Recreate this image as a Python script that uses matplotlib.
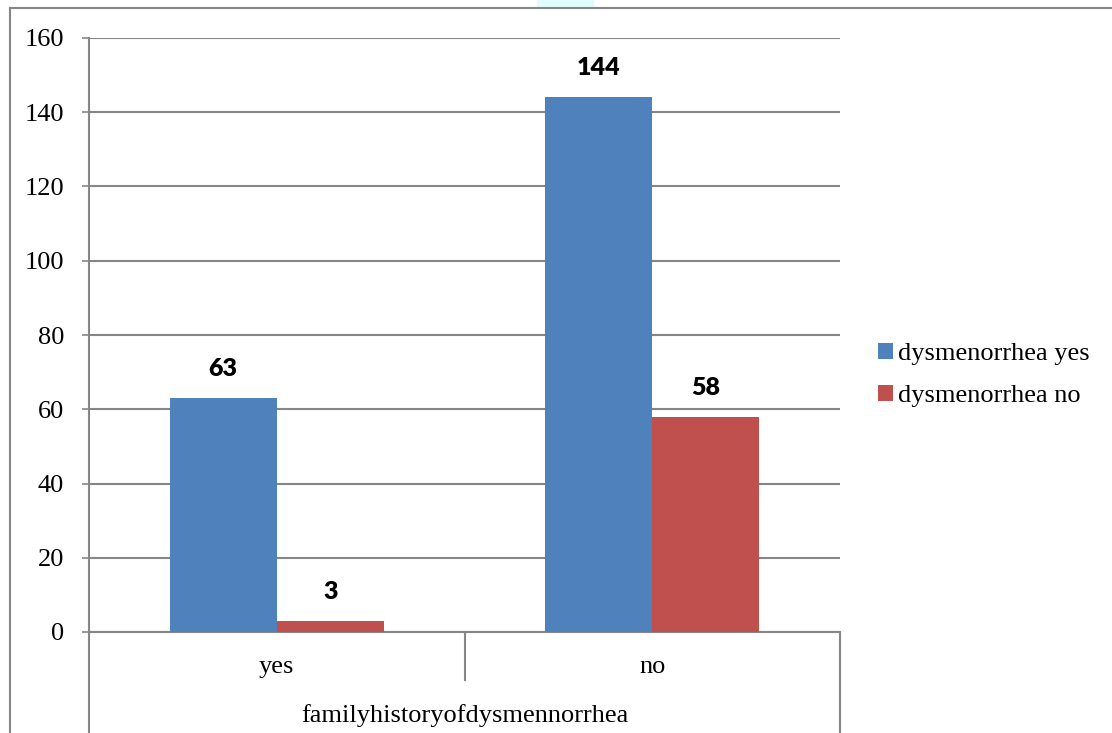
import matplotlib.pyplot as plt
import numpy as np
from matplotlib.lines import Line2D
from matplotlib.patches import Rectangle

# Counts by family history of dysmenorrhea
categories = ['yes', 'no']
series_names = ['dysmenorrhea yes', 'dysmenorrhea no']
dysm_yes = [63, 144]
dysm_no = [3, 58]
yticks = [0, 20, 40, 60, 80, 100, 120, 140, 160]

blue = '#4f81bd'
red = '#c0504d'
grey = '#868686'
serif = 'Liberation Serif'
fs = 19

W, H = 1112, 733
fig = plt.figure(figsize=(W / 100, H / 100), dpi=100)

# plot area in pixel terms
left, right, top, bottom = 89, 840, 38, 632
ax = fig.add_axes([left / W, (H - bottom) / H, (right - left) / W, (bottom - top) / H])

x = np.arange(len(categories))
width = 0.285
b1 = ax.bar(x - width / 2, dysm_yes, width, color=blue, label=series_names[0], zorder=3)
b2 = ax.bar(x + width / 2, dysm_no, width, color=red, label=series_names[1], zorder=3)

# bold value labels above bars
for bars, vals in ((b1, dysm_yes), (b2, dysm_no)):
    for rect, v in zip(bars, vals):
        ax.annotate(str(v), (rect.get_x() + rect.get_width() / 2, v),
                    xytext=(0, 18), textcoords='offset pixels',
                    ha='center', va='bottom', fontsize=18,
                    fontweight='heavy', family='Lato')

ax.set_xlim(-0.5, len(categories) - 0.5)
ax.set_ylim(0, 160)
ax.set_yticks(yticks)
ax.set_yticklabels([str(t) for t in yticks], family=serif, fontsize=fs)
ax.yaxis.grid(True, color=grey, linewidth=1.5, zorder=0)
ax.set_axisbelow(True)
ax.tick_params(axis='y', direction='out', length=5, width=1.2, color=grey, pad=13)
ax.set_xticks([])
for s in ('top', 'right'):
    ax.spines[s].set_visible(False)
for s in ('left', 'bottom'):
    ax.spines[s].set_color(grey)
    ax.spines[s].set_linewidth(1.5)

# category labels and separators below the axis
trans = ax.get_xaxis_transform()
ph = bottom - top
for i, c in enumerate(categories):
    ax.text(i, -35 / ph, c, transform=trans, ha='center', va='center',
            family=serif, fontsize=fs)
edges = np.arange(len(categories) + 1) - 0.5
for j, e in enumerate(edges):
    depth = 101 if j in (0, len(edges) - 1) else 48
    ax.add_line(Line2D([e, e], [0, -depth / ph], transform=trans, color=grey,
                       linewidth=1.5, clip_on=False))
ax.text(np.mean(edges[[0, -1]]), -84 / ph, 'familyhistoryofdysmennorrhea',
        transform=trans, ha='center', va='center', family=serif, fontsize=fs)

# legend on the right
leg = fig.legend(handles=[b1, b2], labels=series_names, loc='center left',
                 bbox_to_anchor=(878 / W, (H - 375) / H), frameon=False,
                 prop={'family': serif, 'size': fs}, handlelength=0.55,
                 handleheight=0.55, handletextpad=0.2, labelspacing=0.75,
                 borderaxespad=0, borderpad=0)

# outer chart frame
fig.add_artist(Line2D([10 / W, 10 / W], [0, (H - 8) / H], color=grey, linewidth=1.5))
fig.add_artist(Line2D([10 / W, 1], [(H - 8) / H, (H - 8) / H], color=grey, linewidth=1.5))
fig.add_artist(Rectangle((537 / W, (H - 8) / H), 56 / W, 8 / H, color='#e0fcfd',
                         transform=fig.transFigure, zorder=0))

fig.savefig('out.png', dpi=100)
